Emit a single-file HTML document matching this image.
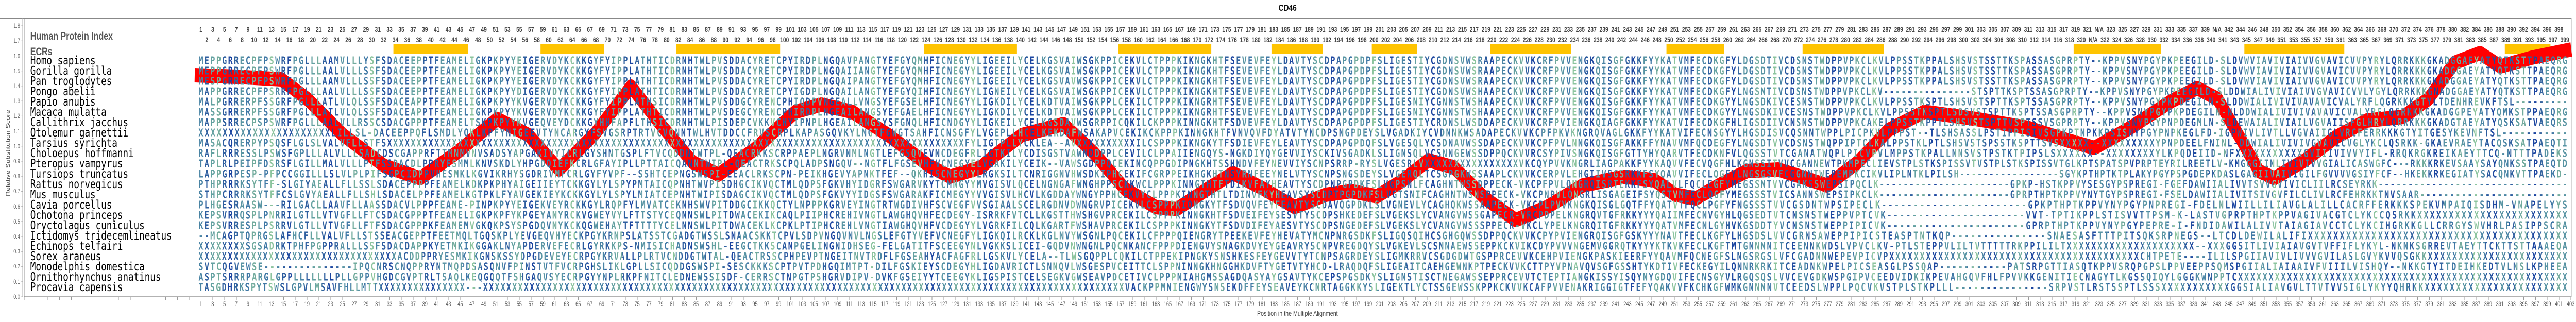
<!DOCTYPE html>
<html><head><meta charset="utf-8"><style>
html,body{margin:0;padding:0;overflow:hidden;background:#fff}
#root{position:fixed;left:0;top:0;width:100vw;height:100vh;display:block}
.lr{position:absolute;display:flex;white-space:nowrap;font-family:"Liberation Sans",sans-serif}
.lr span{flex:0 0 29.97px;width:29.97px;text-align:center}
.top{font-weight:bold;font-size:13.5px;color:#444;line-height:14px;width:6030px}
.bot{font-size:12px;color:#555;line-height:14px;width:6045px}
</style></head><body>
<svg id="root" viewBox="0 0 6548 625" preserveAspectRatio="none" xmlns="http://www.w3.org/2000/svg">
<defs>
<pattern id="cp" patternUnits="userSpaceOnUse" x="503.2" y="0" width="254.745" height="625">
<rect x="0" width="14.985" height="625" fill="#4a84a4"/>
<rect x="14.985" width="14.985" height="625" fill="#2f5f9f"/>
<rect x="29.97" width="14.985" height="625" fill="#62a0a0"/>
<rect x="44.955" width="14.985" height="625" fill="#72ab9d"/>
<rect x="59.94" width="14.985" height="625" fill="#2f5f9f"/>
<rect x="74.925" width="14.985" height="625" fill="#1a44a0"/>
<rect x="89.91" width="14.985" height="625" fill="#34659f"/>
<rect x="104.895" width="14.985" height="625" fill="#5894a3"/>
<rect x="119.88" width="14.985" height="625" fill="#3f78a5"/>
<rect x="134.865" width="14.985" height="625" fill="#72ab9d"/>
<rect x="149.85" width="14.985" height="625" fill="#5894a3"/>
<rect x="164.835" width="14.985" height="625" fill="#3f78a5"/>
<rect x="179.82" width="14.985" height="625" fill="#8cc49e"/>
<rect x="194.805" width="14.985" height="625" fill="#4a84a4"/>
<rect x="209.79" width="14.985" height="625" fill="#2a5a9e"/>
<rect x="224.775" width="14.985" height="625" fill="#1f4aa0"/>
<rect x="239.76" width="14.985" height="625" fill="#5894a3"/>
</pattern>
</defs>
<rect x="0" y="0" width="6548" height="625" fill="#fff"/>
<text x="3273" y="21" text-anchor="middle" font-family="Liberation Sans" font-weight="bold" font-size="18" fill="#111">CD46</text>
<line x1="0" y1="35.5" x2="6536" y2="35.5" stroke="#888" stroke-width="1.2"/>
<line x1="57.5" y1="35" x2="57.5" y2="576" stroke="#aaa" stroke-width="1"/>
<rect x="61.5" y="35.5" width="6474.5" height="540.5" fill="none" stroke="#888" stroke-width="1.3"/>
<g font-family="Liberation Sans" font-size="12" fill="#666" text-anchor="end">
<text x="51" y="580">0.0</text><text x="51" y="551">0.1</text><text x="51" y="521">0.2</text><text x="51" y="492">0.3</text><text x="51" y="463">0.4</text><text x="51" y="434">0.5</text><text x="51" y="405">0.6</text><text x="51" y="375">0.7</text><text x="51" y="346">0.8</text><text x="51" y="317">0.9</text><text x="51" y="288">1.0</text><text x="51" y="259">1.1</text><text x="51" y="229">1.2</text><text x="51" y="200">1.3</text><text x="51" y="171">1.4</text><text x="51" y="142">1.5</text><text x="51" y="113">1.6</text><text x="51" y="83">1.7</text><text x="51" y="54">1.8</text>
</g>
<g stroke="#aaa" stroke-width="1">
<line x1="54" y1="576" x2="58" y2="576"/><line x1="54" y1="546.8" x2="58" y2="546.8"/><line x1="54" y1="517.6" x2="58" y2="517.6"/><line x1="54" y1="488.3" x2="58" y2="488.3"/><line x1="54" y1="459.1" x2="58" y2="459.1"/><line x1="54" y1="429.9" x2="58" y2="429.9"/><line x1="54" y1="400.7" x2="58" y2="400.7"/><line x1="54" y1="371.5" x2="58" y2="371.5"/><line x1="54" y1="342.2" x2="58" y2="342.2"/><line x1="54" y1="313" x2="58" y2="313"/><line x1="54" y1="283.8" x2="58" y2="283.8"/><line x1="54" y1="254.6" x2="58" y2="254.6"/><line x1="54" y1="225.4" x2="58" y2="225.4"/><line x1="54" y1="196.1" x2="58" y2="196.1"/><line x1="54" y1="166.9" x2="58" y2="166.9"/><line x1="54" y1="137.7" x2="58" y2="137.7"/><line x1="54" y1="108.5" x2="58" y2="108.5"/><line x1="54" y1="79.3" x2="58" y2="79.3"/><line x1="54" y1="50" x2="58" y2="50"/>
</g>
<text transform="translate(25,297) rotate(-90)" text-anchor="middle" font-family="Liberation Sans" font-size="14" fill="#444">Relative Substitution Score</text>
<text x="3298" y="613" text-anchor="middle" font-family="Liberation Sans" font-size="14" fill="#444">Position in the Multiple Alignment</text>
<g fill="#ffc400">
<rect x="1000" y="85" width="190" height="20"/><rect x="1374" y="85" width="162" height="20"/><rect x="1719" y="85" width="264" height="20"/><rect x="2349" y="85" width="236" height="20"/><rect x="2843" y="85" width="236" height="20"/><rect x="3232" y="85" width="131" height="20"/><rect x="3487" y="85" width="115" height="20"/><rect x="3788" y="85" width="205" height="20"/><rect x="4236" y="85" width="147" height="20"/><rect x="4582" y="85" width="206" height="20"/><rect x="5271" y="85" width="222" height="20"/><rect x="5705" y="85" width="254" height="20"/><rect x="6367" y="85" width="116" height="20"/>
</g>
<polyline fill="none" stroke="#ff0000" stroke-width="28" stroke-linejoin="round" stroke-linecap="butt" points="495,146 600,149 715,154 781,192 872,262 977,322 1068,346 1160,297 1264,231 1343,262 1421,329 1513,259 1604,168 1683,245 1761,315 1826,339 1918,290 2022,217 2088,203 2166,217 2258,262 2362,322 2415,343 2493,325 2530,301 2598,262 2703,241 2781,297 2860,367 2938,402 2991,406 3069,367 3134,336 3213,367 3291,402 3370,378 3435,371 3500,381 3566,350 3631,311 3696,325 3775,385 3853,427 3932,402 4023,360 4128,343 4206,350 4259,378 4311,385 4376,357 4441,332 4520,329 4578,343 4644,360 4722,315 4801,252 4892,217 5023,231 5154,248 5258,273 5324,287 5415,248 5520,196 5585,171 5637,192 5690,262 5742,332 5781,346 5859,311 5938,266 6016,234 6108,227 6173,192 6239,122 6304,103 6356,129 6435,112 6536,96"/>
<g font-family="Liberation Sans" font-weight="bold" font-size="21" fill="#555">
<text x="77" y="77">Human Protein Index</text><text x="77" y="107">ECRs</text>
</g>
<g font-family="DejaVu Sans Mono" font-size="23" fill="#000">
<text x="77" y="125">Homo sapiens</text><text x="77" y="145">Gorilla gorilla</text><text x="77" y="165">Pan troglodytes</text><text x="77" y="185">Pongo abelii</text><text x="77" y="205">Papio anubis</text><text x="77" y="225">Macaca mulatta</text><text x="77" y="245">Callithrix jacchus</text><text x="77" y="265">Otolemur garnettii</text><text x="77" y="285">Tarsius syrichta</text><text x="77" y="305">Choloepus hoffmanni</text><text x="77" y="325">Pteropus vampyrus</text><text x="77" y="345">Tursiops truncatus</text><text x="77" y="365">Rattus norvegicus</text><text x="77" y="385">Mus musculus</text><text x="77" y="405">Cavia porcellus</text><text x="77" y="425">Ochotona princeps</text><text x="77" y="445">Oryctolagus cuniculus</text><text x="77" y="465">Ictidomys tridecemlineatus</text><text x="77" y="485">Echinops telfairi</text><text x="77" y="505">Sorex araneus</text><text x="77" y="525">Monodelphis domestica</text><text x="77" y="545">Ornithorhynchus anatinus</text><text x="77" y="565">Procavia capensis</text>
</g>
<g font-family="DejaVu Sans Mono" font-weight="bold" font-size="20" fill="url(#cp)">
<g>
<text x="504.68" y="124.5" textLength="2020" lengthAdjust="spacing">MEPPGRRECPFPSWRFPGLLLAAMVLLLYSFSDACEEPPTFEAMELIGKPKPYYEIGERVDYKCKKGYFYIPPLATHTICDRNHTWLPVSDDACYRETCPYIRDPLNGQAVPANGTYEFGYQMHFICNEGYYLIG</text>
<text x="504.68" y="144.5" textLength="2020" lengthAdjust="spacing">MEPPGRRECPFPSWRFPGLLLAALVLLLSSFSDACEEPPTFEAMELIGKPKPYYEIGERVDYKCKKGYFYIPPLATHTICDRNHTWLPVSDDACYRETCPYIRDPLNGQAIIANGTYEFGYQMHFICNEGYYLIG</text>
<text x="504.68" y="164.5" textLength="2020" lengthAdjust="spacing">MESPGRRECPFPSWRFPGLLLAAMVLLLSSFSDACEEPPTFEAMELIGKPKPYYEIGERVDYKCKKGYFYIPPLATHTICDRNHTWLPVSDDACYRETCPYIRDPLNGQAIPANGTYEFGYQMHFICNEGYYLIG</text>
<text x="504.68" y="184.5" textLength="2020" lengthAdjust="spacing">MAPPGRRECPFPSRRFPGLLLAALVLLLSSFSDACEEPPTFEAMELIGKPKPYYDIGERVDYKCKKGYFYIPPLATHTICDRNHTWLPVSDDACYRETCPYIGDPLNGQAILANGTYEFGYQIHFICNEGYYLIG</text>
<text x="504.68" y="204.5" textLength="2020" lengthAdjust="spacing">MALPGRRERPFSSGRFPGLLLATLVLQLSSFSDACEAPPTFEAMELIGKPKPYYKVGERVDYKCKKGYFYIPPLATHSICDRNHTWLPVSDDGCYRENCPHIQDPVNGEALLVNGSYEFGSELHFICNEGYYLIG</text>
<text x="504.68" y="224.5" textLength="2020" lengthAdjust="spacing">MASSGRRERPFSSGRFPGLLLATLVLQLSSFSDACEAPPTFEAMELIGKPKPYYKVGERVDYKCKKGYFYIPPLATHTICDRNHTWLPVSDEGCYRENCPHIRDPLNGEAILANGSYEFGAELHFICNEGYYLIG</text>
<text x="504.68" y="244.5" textLength="2020" lengthAdjust="spacing">MAPPSRRECPSPSWRFPGLLLAALVLLRSSCSDACGPPPTFEAMELTSKPKPYYKVGEQVEYDCKKGYHHFAPFLTHSICDRNHTWLPISDEPCVKKVCHYIPNPLHGEAILANGSYSFGNQLHFICNDGYYLIG</text>
<text x="504.68" y="264.5" textLength="2020" lengthAdjust="spacing">XXXXXXXXXXXXXXXXXXXXXXLILLSL-DACEEPPQFLSMDLYQKLKPFYNIGEEVTYNCARGYFSVGSRPTRTVCVQNNTWLHVTDDCCFRVSCRPLKAPASGQVKYLNGTFGWGTSAHFICNSGFYLVG</text>
<text x="504.68" y="284.5" textLength="2020" lengthAdjust="spacing">MASACQRERPYPSQSFLGLSLVALVFLLSTFSXXXXXXXXXXXXXXXXXXXXXXXXXXXXXXXXXXXXXXXXXXXXXXXXXXXXXXXXXXXXXXXXXXXXXXXXXXXXXXXXXXXXXXXXXXXXXXXXXXFYLIG</text>
<text x="504.68" y="304.5" textLength="2020" lengthAdjust="spacing">RAFLRRRESSLPSWSFGPLLLALVLLLSADCDSCGAPPRFTTMNMVNVSADSYAPGAKIVYICRLGYSHNTGSPLFTVCQDDNTWTPL-QEACRKKSCRPPAEPLNGRVNMLNGTLEFGSQVEVNCDEGFRLIG</text>
<text x="504.68" y="324.5" textLength="2020" lengthAdjust="spacing">TAPLRLPEIPFDSRSFLGILLMALVLLLPTFSSDACDLPPRYESMMLKNVSKDLYHPGDQIEFKCRLGFAYIPLLPTTAICQANNTWIPL-QEACTRKSCPQLADPSNGQV--NGTFLFGSEVHFVCNEGYELVG</text>
<text x="504.68" y="344.5" textLength="2020" lengthAdjust="spacing">LAPPGRPESP-PFPCCGGILLLSLVLPLPIFSGPCIDPPVHESMKLKGVIKRHYSGDRIVMFCRLGYFYVPF--SSHTCEPNGSWSPI-EEACLRKSCPN-PEIKHGEVYAPNKTFEF--QKHISCNEGYYLRG</text>
<text x="504.68" y="364.5" textLength="2020" lengthAdjust="spacing">PTHPRRRKSYTFF-SLGIYAEALLFLLSSLSDACEPPPPFEAMELKDKPKPHYAIGEIIEYTCKKGYLYLSPYPMTAICQPNHTWVPISDHGCIKVQCTMLQDPSFGKVHYIDGRFSWGARVKYTCMNGYYMVG</text>
<text x="504.68" y="384.5" textLength="2020" lengthAdjust="spacing">STHPCRRRKSYTFFCSLGVYAEALLFLLSHLSDACELPPFEAMELKGTPKLFYAVGEKIEYKCKKGYLYLSPYLMIATCEPNHTWIPISDAGCIKVQCTMLQDPSFGKVYYIDGSFSWGARAKFICMEGYYVVG</text>
<text x="504.68" y="404.5" textLength="2020" lengthAdjust="spacing">PLHGESRAASW---RILGACLLAAVFLLAASSDACVLPPPFEAME-PINPKPYYEIGEKVEYRCKKGYLRQPFYLMVATCEKNHSWVPITDDGCIKKQCTYLNPPPKGRVEYINGTRTWGDIVHFSCVEGFVVSG</text>
<text x="504.68" y="424.5" textLength="2020" lengthAdjust="spacing">KEPSVRRQSPLPNRRILGTLLVTVGFLLFTCSDACGPPPTFEAMELIGKPKPFYKPGEYANYRCKVGWEYVYLFTTSTYCEQNNSWLPITDWACEKIKCAQLPIIPHCREHIVNGTLAWGHQVHFECDEGY-ISR</text>
<text x="504.68" y="444.5" textLength="2020" lengthAdjust="spacing">KEPSVRRESPLPSRRVLGTLLVTVGFLLFTFSDACGPPPKFEAMEMVGKQKPSYSPGDQVNYKCKQGWEHAYTFTTTTYCELNNSWLPITDWACEKLKCPKLPTIPHCREHLVNGTIAWGHQVHFVCDEGYYLVG</text>
<text x="504.68" y="464.5" textLength="2020" lengthAdjust="spacing">--MCAGPTQPRGSLAFHCFLLVALVFLLSTSSEACGEPPTFEETMQLTGQSKPLYEVGEQVHYECKPGYKRNPSLATSSTCGADGTWSSLSNAACSKKTCPVLSDPVNGQVNVLNGSLEFGTYVEFVCNEGFYLIG</text>
<text x="504.68" y="484.5" textLength="2020" lengthAdjust="spacing">XXXXXXXXSGSADRKTPHFPGPPRALLLSSFSDACDAPPKYETMKIKGGAKLNYAPDERVEFECRLGYRKKPS-NMISICHADNSWSHL-EEGCTKKSCANPGELINGNIDHSEG-FELGATITFSCEEGYNLVG</text>
<text x="504.68" y="504.5" textLength="2020" lengthAdjust="spacing">XXXXXXXXXXXXXXXXXXXXXXXXXXXXXXXXXXACDDPPRYESMKIKGNSKSSYDPGDEVEYECRPGYKRVALLPLRTVCNDDGTWTAL-QEACTRSSCPHPEVPTNGEITNVTRDFLFGSEAHYACFAGFRLLG</text>
<text x="504.68" y="524.5" textLength="2020" lengthAdjust="spacing">SVTCQGVEWSE---------------IPQCNRSCNQPPRYNTMQPDSASQNVFPINSTVTFVCRPGHSLIKLGPLLSICQDDGSWSPI-SESCKKKSCPTPVTPDHGQIMTPT-DILFGSKIEYSCDEGYHLIG</text>
<text x="504.68" y="544.5" textLength="2020" lengthAdjust="spacing">ASPTSRRRPARGLGPPLLLLLLLPLLGPPVHGDCGVPTRLTSAQLKEQGQQTFSHGAQVSYECRPGYYNPLRKPFNITCLEDNEWSSISDF-CERRSCTNPGTPSHGRVDIPV-DVKFGSEIYYTCEEGYKLIG</text>
<text x="504.68" y="564.5" textLength="2020" lengthAdjust="spacing">TASGDHRKSPYTSWSLGPVLMSAVFHLLMTTXXXXXXXXXXXXXXX---XXXXXXXXXXXXXXXXXXXXXXXXXXXXXXXXXXXXXXXXXXXXXXXXXXXXXXXXXXXXXXXXXXXXXXXXXXXXXXXXXXXXXXXX</text>
</g>
<g>
<text x="2527.66" y="124.5" textLength="1945" lengthAdjust="spacing">EEILYCELKGSVAIWSGKPPICEKVLCTPPPKIKNGKHTFSEVEVFEYLDAVTYSCDPAPGPDPFSLIGESTIYCGDNSVWSRAAPECKVVKCRFPVVENGKQISGFGKKFYYKATVMFECDKGFYLDGS</text>
<text x="2527.66" y="144.5" textLength="1945" lengthAdjust="spacing">EEILYCELKGSVAIWSGKPPICEKVLCTPPPKIKNGKHTFSEVEVFEYLDAVTYSCDPAPGPDPFSLIGESTIYCGDNSVWSRAAPECKVVKCRFPVVENGKQISGFGKKFYYKATVMFECDKGFYLDGS</text>
<text x="2527.66" y="164.5" textLength="1945" lengthAdjust="spacing">EEILYCELKGSVAVWSGKPPICEKVLCTPPPKIKNGKHTFSEVEVFEYLDAVTYSCDPAPGPDPFSLIGESTIYCGDNSVWSRAAPECKVVKCRFPVVENGKQISGFGKKFYYKATVMFECDKGFYLDGS</text>
<text x="2527.66" y="184.5" textLength="1945" lengthAdjust="spacing">NEILYCELKGSVAIWSGKPPICEKVLCTPPPKIKNGKHTFSEVEVFEYLDAVTYSCDPAPGPDPFSLIGESTIYCGDNSVWSHAAPECKVVKCRFPVVENGKQISGFGKKFYYKATVMFECDKGFYLNGS</text>
<text x="2527.66" y="204.5" textLength="1945" lengthAdjust="spacing">KDILYCELKDTVAIWSGKPPLCEKILCTPPPKIKNGRHTFSEVEVFEYLDAVTYSCDPAPGPDPFSLIGESNIYCGNNSTWSHAAPECKVVKCRFPVVENGKQISGFGKKFYYKATVMFECDKGYYLNGS</text>
<text x="2527.66" y="224.5" textLength="1945" lengthAdjust="spacing">KDILYCELKDTVAIWSGKPPLCEKILCTPPPKIKNGRHTFSEVEVFEYLDAVTYSCDPAPGPDPFSLIGESNIYCGNNSTWSHAAPECKVVKCRFPVVENGKQISGFGKKFYYKATVMFECDKGYYLNGS</text>
<text x="2527.66" y="244.5" textLength="1945" lengthAdjust="spacing">KEILYCELKGSDAVWSGRPPICQKILCKPPPKINNGKHTFSDVEVFEYLDAVTYSCDPAPGPDPFSLIGESTIYCRDNSLWSDDAPECKVVKCRFPVIENGKQIAGFGKKFYYKATVIFECDKGFHLIGS</text>
<text x="2527.66" y="264.5" textLength="1945" lengthAdjust="spacing">EPLLHCELKEKDAFWSAKAPVCEKIKCKPPPKINNGKHTFVNVQVFDYATVTYNCDPSNGPDEYSLVGADKIYCVDNNKWSADAPECKVVKCPFPKVKNGRQVAGLGKKFYYKATVIFECNSGYYLHGS</text>
<text x="2527.66" y="284.5" textLength="1945" lengthAdjust="spacing">TPLLYCKLEA--AVXXXXXXXXXXILCSPPPKIKNGKYTFSDIEVFEYLEAVTYSCDPAPGPDQFSLVGESQLYCSDNAVWSSDAPECKVVKCPFPVLNNGKQISGFAKKFFYNAVVMFQCDEGFYLNGS</text>
<text x="2527.66" y="304.5" textLength="1945" lengthAdjust="spacing">TKILYCDISGSTVAWNDDPPLCEVILCLPPAIIENGQYS-NGKDIYQYGEVVIYSCKIVSGADKLSLIGNSQLVCSNNGEWSSDPPQCKVVRCSYPIVSNGKQISGFGTTYHYQARVTFECDKNFVLQGS</text>
<text x="2527.66" y="324.5" textLength="1945" lengthAdjust="spacing">AKILYCEIK--VAWSGDPPQCEKINCQPPGDIPNGKHTSSHNDVFEYNEVVIYSCNPSRRP-RYSLVGESRLVXXXXXXXXXXXXXXXXVKCQYPVVKNGRLIAGPAKKFYYKAQVVFECVQGFHLKGNS</text>
<text x="2527.66" y="344.5" textLength="1945" lengthAdjust="spacing">KSILTCNRIGGNVHWSDKIPHCEKIFCGRPPEIKHGKHTNSYRNFEEYNELVTYSCNPSNGSDEYSLVGERQLTCSGPGKWSSAAPLCKVVKCERPVLEHGIIVSGSRKKFSYQAVVIFECLQGFYLNGS</text>
<text x="2527.66" y="364.5" textLength="1945" lengthAdjust="spacing">ISVLQCELNGNGAFWNGHPPSCKKWCLPPPKINNGTHTFTDIKVFAYHEAVTYSCDPNPGPDKFSLVGPSNLFCAGHNTWSSDPPECK-VKCPFPVLQNGRQISRTEKKFSYQALVLFQCLEGFYMEGSS</text>
<text x="2527.66" y="384.5" textLength="1945" lengthAdjust="spacing">ISVLHCVLKGDDAYWNGYPPHCEKVYCLPPPKINNGTHTLTDINVFKYHEAVSYSCDPTPGPDKFSLVGTSNIFCAGHNTWSNSPPECK-VKCPNPVLQNGRLISGAGEIFSYQSTVMFECLQGFYMEGSS</text>
<text x="2527.66" y="404.5" textLength="1945" lengthAdjust="spacing">IAALSCELRGDNVDWNGRVPICEKVLCSPPPKIQNGKYTFSDVQVFEYFEAVTYSCDAVQGPDKLSLVGNEVLYCAGHQKWSSAAPECK-VKCPLPVVKNGKQISGLGQTFFYQATVTFQCLPGFYFNGSS</text>
<text x="2527.66" y="424.5" textLength="1945" lengthAdjust="spacing">RKFVTCLLKGSTTHWSHGVPRCEKILCSPPPKINNGKHTFSDVEIFEYSESVTYSCDPSHKEDEFSLVGEKSLYCVANGVWSSGAPECR-VRCPDPELKNGRQVTGFRKKYYYQAIIMFECNVGYHLQGSE</text>
<text x="2527.66" y="444.5" textLength="1945" lengthAdjust="spacing">RKFILCQLKGARTFWSHAVPRCEKILCSPPPKINNGKYTFSDVDIFEYAESVTYSCDPSNGEDEFSLVGEKSLYCVANGVWSSSPPECR-VKCLYPELKNGRQITGFRKKYYYQATVMFECNLGYHVKGSD</text>
<text x="2527.66" y="464.5" textLength="1945" lengthAdjust="spacing">KQILRCKLKGLNVYWSGNLPQCEKILCFPPPQIENGRYTPEEKEVFEYHEVATYMCNPNRGSDKFSLIGQSQIHCSGHGQWSSDPPQCKVVKCPYPVIENGRQISGFGSKYYYNAVTFECLKGFYLHGSD</text>
<text x="2527.66" y="484.5" textLength="1945" lengthAdjust="spacing">KKSLICEI-GQDVNWNGNLPQCNKANCFPPPDIENGVYSNAGKDVYEYGEAVRYSCNPVREGDQYSLVGKEVLSCSNNAEWSSEPPKCKVIKCDYPVVVNGEMVGGRQTKYYYKTKVKFECLKGFTMTGNN</text>
<text x="2527.66" y="504.5" textLength="1945" lengthAdjust="spacing">SKVLYCELA--TLWSGQPPLCQKILCTPPEKIPNGKYSNSHKESFEYGEVVTYTCNPSAGRDEYSLIGMKRRVCSGDGDWTGSPPRCEVVKCEHPVIENGKPASKIEERFYYQAVMFQCNEGFSLNGSR</text>
<text x="2527.66" y="524.5" textLength="1945" lengthAdjust="spacing">DAVRICTLSNNQVLWSGESPVCEITTCLSPPNINNGKHNGGHKDVFTYGETVTYHCD-LRAQDQFSLIGEAITCAEHGEWNKPTPECKVVKCTTPYVPNAVQVSGFGSSHTYKDTIVFECKEGYILQNNRK</text>
<text x="2527.66" y="544.5" textLength="1945" lengthAdjust="spacing">SPISTCELSEGKVGWSEAVPDCETIVCLPPPNIAHGMSSAGDQASYAYGSAVTYKCEPSPGSDKYSLIGNSTISCTNEGAWSSEPPRCEVVTCTEPTIANGKISSYISQYNYGDQVIFECNSGYVLRGQS</text>
<text x="2527.66" y="564.5" textLength="1945" lengthAdjust="spacing">XXXXXXXXXXXXXXXXXXXXXXVACKPPMNIENGWYSNSEKDFFEYSEAVEYKCNRTAGGKKYSLIGEKTLYCTSSGEWSSKPPKCKVVKCAFPVVENAKRIGGIGTFEFYQAKVVFKCHKGFWMKGNN</text>
</g>
<g>
<text x="4475.71" y="124.5" textLength="2050" lengthAdjust="spacing">DTIVCDSNSTWDPPVPKCLKVLPPSSTKPPALSHSVSTSSTTKSPASSASGPRPTY--KPPVSNYPGYPKPEEGILD-SLDVWVIAVIVIAIVVGVAVICVVPYRYLQRRKKKGKADGGAEYATYQTKSTTPAEQRG</text>
<text x="4475.71" y="144.5" textLength="2050" lengthAdjust="spacing">DTIVCDSNSTWDPPVPKCLKVLPPSSTKPPALSHSVSTSSTTKSPASSASGPRPTY--KPPVSNYPGYPKPEEGILD-SLDVWVIAVIVIAIVVGVAVICVVPYRYLQRRKKKGKADGGAEYATYQTKSTTPAEQRG</text>
<text x="4475.71" y="164.5" textLength="2050" lengthAdjust="spacing">DTIVCDSNSTWDPPVPKCLKVLPPSSTKPPALSHSVSTSSTTKSPASSASGPRPTY--KPPVSNYPGYPKPEEGILD-SLDVWVIAVIVIAIVVGVAVICVVPYRYLQRRKKKGKADGGAEYATYQTKSTTPAEQRG</text>
<text x="4475.71" y="184.5" textLength="2050" lengthAdjust="spacing">NTIVCDSNSTWDPPVPKCLKV---------------STSPTTKSPTSSASGPRPTY--KPPVSNYPGYPKPEEGILD-SLDDWIALIVIVIAIVVGVAVICVVLYGYLQRRKKKGNADGGAEYATYQTKSTTPAEQRG</text>
<text x="4475.71" y="204.5" textLength="2050" lengthAdjust="spacing">DKIVCESNSTWDPPVPKCLKVLPPSSTKSPTLSHSVSTSPTTKSPTSSASGPRPTY--KPPVSNYPGYPKPDEGILN-SLDDWIALIVIVIVAVAVICVALYRFLQGRKKKGTYLTDENHREVKFTSL---------</text>
<text x="4475.71" y="224.5" textLength="2050" lengthAdjust="spacing">DKIVCESNSTWDPPVPKCLKVLPPSSTKSPTLSDSVSTSPTTKSPTSSASGPRPTY--KPPVSNYPGYPKPDEGILN-NLDDWIALIVIVIVAVAVICVALYRFLQGRKKKGKADGGPEYATYQMKSTPPAEQRG</text>
<text x="4475.71" y="244.5" textLength="2050" lengthAdjust="spacing">DIIVCNSNSTWDPPVPKCAKELPPSSTKPPTLSHSVSTSPTTVSPTSSVSGPRPTY--KPPVSNYPGYPNPDEGMLN-SLDEWAIALIVIAILVGVAIISFGLHRYLQRRKKKGKADGTAEYATYQSKSATVAEQRS</text>
<text x="4475.71" y="264.5" textLength="2050" lengthAdjust="spacing">DISVCQSNNTWPPLPICPKVLPPPST--TLSHSASSLPSTIPPISIVSGPKPTNPKKPSISNYPGYPNPKEGLFD-IGPWIVLIVTLLVGVAIIGLVRCFERRKKKGTYITGESYKEVNFTSL-----------</text>
<text x="4475.71" y="284.5" textLength="2050" lengthAdjust="spacing">DTVVCDSNSTWQPPIPTCLKALPPSTKLPTLSHSVSTSPSSTKSPTTSVSXXXXX--XXXXXXXXXYPNPDEELFNINL-DDWIALIVIVIVGVAVICVGLYKCLQSRKK-GKAEVRAEYTACQSKSATPAEQTI</text>
<text x="4475.71" y="304.5" textLength="2050" lengthAdjust="spacing">STVTCGANATWQPLPICVPVLMPPSTKPALLNNSVSTPSTKTPIPSLSXXXXXX--XXXXXXXXYLKPQDEIID-NFXXXXXXXXXXXGVIIIVIVVYIFL-RRQKRGKREIKAEYTTCQ-NTTTPADEKS</text>
<text x="4475.71" y="324.5" textLength="2050" lengthAdjust="spacing">SITVVCGANNEWTPKMPECLIEVSTPLSTKSPISSVTVSTPLSTKSPISSVTGLKPTSPATSPVPRPTEYRILREETLV-KMGGGIINLIVIVIVVGIALICASWGFC---RKKKRKEVSAAYSAYQNKSSTPAEQTD</text>
<text x="4475.71" y="344.5" textLength="2050" lengthAdjust="spacing">GSVFCGGNNTWEPEMPKCIKVLIPLNTKLPILSH-----------------SGYKPTHPTKTPLAKYPGYPSPGDEPKDASLGAGIIVAIVIGILFGVVVVGSIYFCF--HKEKKRKEGIATYSACQNKVTTPAEKD-</text>
<text x="4475.71" y="364.5" textLength="2050" lengthAdjust="spacing">NTVVCGAKSSWEPSIPQCLK----------------------GPKP-HSTKPPVYSESGYPSPREGI-FGEFDAWIIALIVVTSVVGVIVICLIILRCSEYRKK--------------------------------</text>
<text x="4475.71" y="384.5" textLength="2050" lengthAdjust="spacing">STVICSANNSWEPSIPKCLK----------------------GPRPTHPTKPPVYNYTGYPSPREGI-FSELDAWIIALIVITSIVGVFILCLIVLRCFEHRKKTNVSAAR-------------------------</text>
<text x="4475.71" y="404.5" textLength="2050" lengthAdjust="spacing">STVVCGSDNTWPSIPECLK-----------------------GPKPTHPTKPPVYNYPGYPNPREGI-FDELNLWIILLILIAVGLALILLCACRFFERKKKSPEKVMPAIQISDHM-VNAPELYYS</text>
<text x="4475.71" y="424.5" textLength="2050" lengthAdjust="spacing">DTVTCNSNSTWEPPVPTCVK----------------------VVT-TPTIKPPLSTISVVTTPSM-K-LASTVGPRPTHPTKPPVAGIVACGTCLYKCCQSRKKXXXXXXXXXXXXXXXXXXXXXXXX</text>
<text x="4475.71" y="444.5" textLength="2050" lengthAdjust="spacing">DTYVCNSNSTWEPPIPICVK----------------------GPRPTHPTKPPVYNYPGYPEPRE-I-FNDIDAWILALIVVTAIAGIAVCCTCLYKCIHGRKKGLLCRRGYSWVHRLPASIPPSCRA</text>
<text x="4475.71" y="464.5" textLength="2050" lengthAdjust="spacing">SLVVCGRNSAWEPPIPICSTEASPTNTKQP---------------SNAESASFTTTPITSQKSRPNEGS--LTCDLDEWILALIFIXXXXXXXXXXXXXXXXXXXXXXXXXXXXXXXXXXXXXXXXX</text>
<text x="4475.71" y="484.5" textLength="2050" lengthAdjust="spacing">NNITCEENNKWDSLVPVCLKV-PTLSTEPPVLILTVTTTTTRKPPILILTXXXXXXXXXXXXXXXXXXXXX--XXXGGSITLIVIAIAVGVTVFFIFLYKYL-NKNKSGRREVTAEYTTCKTTSTTAAAEQA</text>
<text x="4475.71" y="504.5" textLength="2050" lengthAdjust="spacing">GSLVFCGADNNWEPEVPICVPXXXXXXXXXXXXXXXXXXXXXXXXXXXXXXXXXXXXXXXXXCHTPETE----ILILSPGIIAVIVLIVVVGVILASLGVYKVVQSGKKXXXXXXXXXXXXXXXXXXXXXXX</text>
<text x="4475.71" y="524.5" textLength="2050" lengthAdjust="spacing">RKITCEADNKWPELPICSEASGLPSSQAP-----------PATSRPGTTIASQTKPPVSRQPGPSLPPVEEPPSQMSPGIIALIAIAAIVFVIIILVISHQY--NKKGTYITDEIHKEDTVLNSLKPHEEA</text>
<text x="4475.71" y="544.5" textLength="2050" lengthAdjust="spacing">QSLVVCEVGDKWSPGIPVCEEDVIDKIKPEVAHGQVFHLFPVVKKGENITIECNAGYTLKGSSQIQYLGGGKWNPPTCXXXXXXXXXXXXXXXXXXXXXXXXXXXXXXXXXXXXXXXXXXXXXXXXXXXXXX</text>
<text x="4475.71" y="564.5" textLength="2050" lengthAdjust="spacing">NNVTCEEDSLWPPLPQCVKVSTPLSTKPLLL---------------SRPVSTLRSTSSPTLSSSXXXXXXXXXXXGGSIALIAVGVLTTVTVVSIGLYKYYQHRKKXXXXXXXXXXXXXXXXXXXXXXX</text>
</g>
</g>
<foreignObject x="0" y="0" width="6548" height="625">
<div xmlns="http://www.w3.org/1999/xhtml" style="position:relative;width:6548px;height:625px">
<div style="position:absolute;left:61.2px;top:576px;width:6476px;height:6px;background:repeating-linear-gradient(to right,#999 0 1px,transparent 1px 29.97px)"></div>
<div class="lr top" style="left:495.7px;top:51px"><span>1</span><span>3</span><span>5</span><span>7</span><span>9</span><span>11</span><span>13</span><span>15</span><span>17</span><span>19</span><span>21</span><span>23</span><span>25</span><span>27</span><span>29</span><span>31</span><span>33</span><span>35</span><span>37</span><span>39</span><span>41</span><span>43</span><span>45</span><span>47</span><span>49</span><span>51</span><span>53</span><span>55</span><span>57</span><span>59</span><span>61</span><span>63</span><span>65</span><span>67</span><span>69</span><span>71</span><span>73</span><span>75</span><span>77</span><span>79</span><span>81</span><span>83</span><span>85</span><span>87</span><span>89</span><span>91</span><span>93</span><span>95</span><span>97</span><span>99</span><span>101</span><span>103</span><span>105</span><span>107</span><span>109</span><span>111</span><span>113</span><span>115</span><span>117</span><span>119</span><span>121</span><span>123</span><span>125</span><span>127</span><span>129</span><span>131</span><span>133</span><span>135</span><span>137</span><span>139</span><span>141</span><span>143</span><span>145</span><span>147</span><span>149</span><span>151</span><span>153</span><span>155</span><span>157</span><span>159</span><span>161</span><span>163</span><span>165</span><span>167</span><span>169</span><span>171</span><span>173</span><span>175</span><span>177</span><span>179</span><span>181</span><span>183</span><span>185</span><span>187</span><span>189</span><span>191</span><span>193</span><span>195</span><span>197</span><span>199</span><span>201</span><span>203</span><span>205</span><span>207</span><span>209</span><span>211</span><span>213</span><span>215</span><span>217</span><span>219</span><span>221</span><span>223</span><span>225</span><span>227</span><span>229</span><span>231</span><span>233</span><span>235</span><span>237</span><span>239</span><span>241</span><span>243</span><span>245</span><span>247</span><span>249</span><span>251</span><span>253</span><span>255</span><span>257</span><span>259</span><span>261</span><span>263</span><span>265</span><span>267</span><span>269</span><span>271</span><span>273</span><span>275</span><span>277</span><span>279</span><span>281</span><span>283</span><span>285</span><span>287</span><span>289</span><span>291</span><span>293</span><span>295</span><span>297</span><span>299</span><span>301</span><span>303</span><span>305</span><span>307</span><span>309</span><span>311</span><span>313</span><span>315</span><span>317</span><span>319</span><span>321</span><span>N/A</span><span>323</span><span>325</span><span>327</span><span>329</span><span>331</span><span>333</span><span>335</span><span>337</span><span>339</span><span>N/A</span><span>342</span><span>344</span><span>346</span><span>348</span><span>350</span><span>352</span><span>354</span><span>356</span><span>358</span><span>360</span><span>362</span><span>364</span><span>366</span><span>368</span><span>370</span><span>372</span><span>374</span><span>376</span><span>378</span><span>380</span><span>382</span><span>384</span><span>386</span><span>388</span><span>390</span><span>392</span><span>394</span><span>396</span><span>398</span></div>
<div class="lr top" style="left:510.7px;top:71px"><span>2</span><span>4</span><span>6</span><span>8</span><span>10</span><span>12</span><span>14</span><span>16</span><span>18</span><span>20</span><span>22</span><span>24</span><span>26</span><span>28</span><span>30</span><span>32</span><span>34</span><span>36</span><span>38</span><span>40</span><span>42</span><span>44</span><span>46</span><span>48</span><span>50</span><span>52</span><span>54</span><span>56</span><span>58</span><span>60</span><span>62</span><span>64</span><span>66</span><span>68</span><span>70</span><span>72</span><span>74</span><span>76</span><span>78</span><span>80</span><span>82</span><span>84</span><span>86</span><span>88</span><span>90</span><span>92</span><span>94</span><span>96</span><span>98</span><span>100</span><span>102</span><span>104</span><span>106</span><span>108</span><span>110</span><span>112</span><span>114</span><span>116</span><span>118</span><span>120</span><span>122</span><span>124</span><span>126</span><span>128</span><span>130</span><span>132</span><span>134</span><span>136</span><span>138</span><span>140</span><span>142</span><span>144</span><span>146</span><span>148</span><span>150</span><span>152</span><span>154</span><span>156</span><span>158</span><span>160</span><span>162</span><span>164</span><span>166</span><span>168</span><span>170</span><span>172</span><span>174</span><span>176</span><span>178</span><span>180</span><span>182</span><span>184</span><span>186</span><span>188</span><span>190</span><span>192</span><span>194</span><span>196</span><span>198</span><span>200</span><span>202</span><span>204</span><span>206</span><span>208</span><span>210</span><span>212</span><span>214</span><span>216</span><span>218</span><span>220</span><span>222</span><span>224</span><span>226</span><span>228</span><span>230</span><span>232</span><span>234</span><span>236</span><span>238</span><span>240</span><span>242</span><span>244</span><span>246</span><span>248</span><span>250</span><span>252</span><span>254</span><span>256</span><span>258</span><span>260</span><span>262</span><span>264</span><span>266</span><span>268</span><span>270</span><span>272</span><span>274</span><span>276</span><span>278</span><span>280</span><span>282</span><span>284</span><span>286</span><span>288</span><span>290</span><span>292</span><span>294</span><span>296</span><span>298</span><span>300</span><span>302</span><span>304</span><span>306</span><span>308</span><span>310</span><span>312</span><span>314</span><span>316</span><span>318</span><span>320</span><span>N/A</span><span>322</span><span>324</span><span>326</span><span>328</span><span>330</span><span>332</span><span>334</span><span>336</span><span>338</span><span>340</span><span>341</span><span>343</span><span>345</span><span>347</span><span>349</span><span>351</span><span>353</span><span>355</span><span>357</span><span>359</span><span>361</span><span>363</span><span>365</span><span>367</span><span>369</span><span>371</span><span>373</span><span>375</span><span>377</span><span>379</span><span>381</span><span>383</span><span>385</span><span>387</span><span>389</span><span>391</span><span>393</span><span>395</span><span>397</span><span>399</span></div>
<div class="lr bot" style="left:495.7px;top:583px"><span>1</span><span>3</span><span>5</span><span>7</span><span>9</span><span>11</span><span>13</span><span>15</span><span>17</span><span>19</span><span>21</span><span>23</span><span>25</span><span>27</span><span>29</span><span>31</span><span>33</span><span>35</span><span>37</span><span>39</span><span>41</span><span>43</span><span>45</span><span>47</span><span>49</span><span>51</span><span>53</span><span>55</span><span>57</span><span>59</span><span>61</span><span>63</span><span>65</span><span>67</span><span>69</span><span>71</span><span>73</span><span>75</span><span>77</span><span>79</span><span>81</span><span>83</span><span>85</span><span>87</span><span>89</span><span>91</span><span>93</span><span>95</span><span>97</span><span>99</span><span>101</span><span>103</span><span>105</span><span>107</span><span>109</span><span>111</span><span>113</span><span>115</span><span>117</span><span>119</span><span>121</span><span>123</span><span>125</span><span>127</span><span>129</span><span>131</span><span>133</span><span>135</span><span>137</span><span>139</span><span>141</span><span>143</span><span>145</span><span>147</span><span>149</span><span>151</span><span>153</span><span>155</span><span>157</span><span>159</span><span>161</span><span>163</span><span>165</span><span>167</span><span>169</span><span>171</span><span>173</span><span>175</span><span>177</span><span>179</span><span>181</span><span>183</span><span>185</span><span>187</span><span>189</span><span>191</span><span>193</span><span>195</span><span>197</span><span>199</span><span>201</span><span>203</span><span>205</span><span>207</span><span>209</span><span>211</span><span>213</span><span>215</span><span>217</span><span>219</span><span>221</span><span>223</span><span>225</span><span>227</span><span>229</span><span>231</span><span>233</span><span>235</span><span>237</span><span>239</span><span>241</span><span>243</span><span>245</span><span>247</span><span>249</span><span>251</span><span>253</span><span>255</span><span>257</span><span>259</span><span>261</span><span>263</span><span>265</span><span>267</span><span>269</span><span>271</span><span>273</span><span>275</span><span>277</span><span>279</span><span>281</span><span>283</span><span>285</span><span>287</span><span>289</span><span>291</span><span>293</span><span>295</span><span>297</span><span>299</span><span>301</span><span>303</span><span>305</span><span>307</span><span>309</span><span>311</span><span>313</span><span>315</span><span>317</span><span>319</span><span>321</span><span>323</span><span>325</span><span>327</span><span>329</span><span>331</span><span>333</span><span>335</span><span>337</span><span>339</span><span>341</span><span>343</span><span>345</span><span>347</span><span>349</span><span>351</span><span>353</span><span>355</span><span>357</span><span>359</span><span>361</span><span>363</span><span>365</span><span>367</span><span>369</span><span>371</span><span>373</span><span>375</span><span>377</span><span>379</span><span>381</span><span>383</span><span>385</span><span>387</span><span>389</span><span>391</span><span>393</span><span>395</span><span>397</span><span>399</span><span>401</span><span>403</span></div>
</div>
</foreignObject>
</svg>
</body></html>
